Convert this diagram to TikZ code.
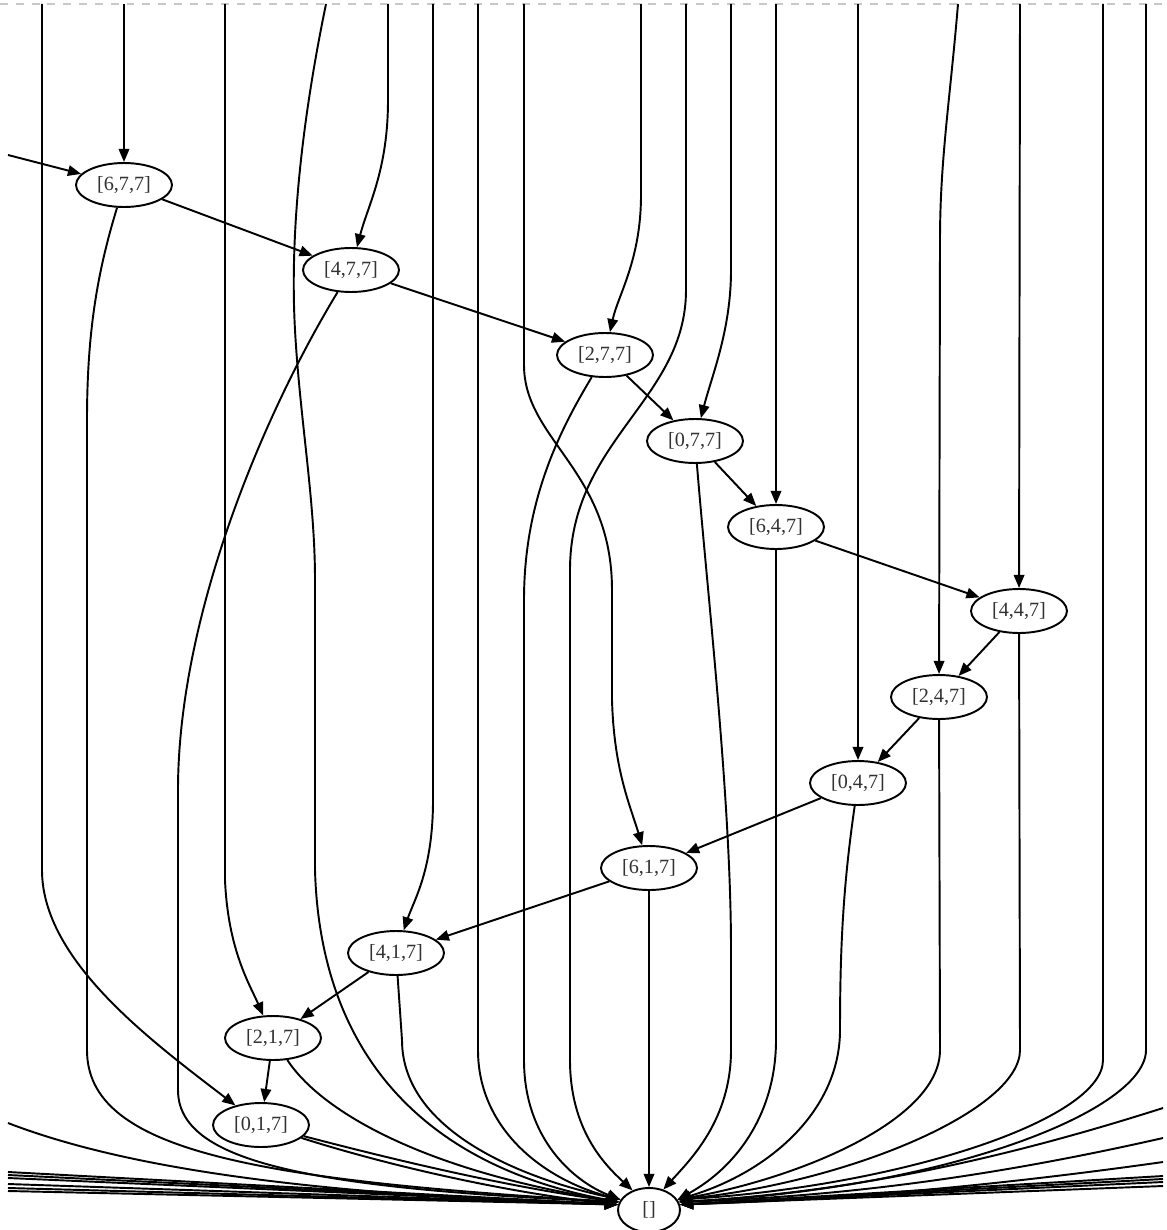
\documentclass[tikz,border=0pt]{standalone}
\usepackage{fontspec}
\setmainfont{Liberation Serif}
\usepackage{tikz}
\usetikzlibrary{shapes.geometric, arrows.meta}
\definecolor{cutgray}{RGB}{200,200,200}
\definecolor{labelgray}{RGB}{50,50,50}
\tikzset{
  state/.style={ellipse, draw, fill=white, line width=1.1pt,
    minimum width=1.92cm, minimum height=0.88cm, inner sep=0pt,
    text=labelgray, font=\fontsize{11.5}{13}\selectfont},
  link/.style={-{Triangle[length=7.5pt,width=6pt]}, line width=1.1pt}
}

\begin{document}
\begin{tikzpicture}[x=0.02cm, y=-0.02cm]
  \useasboundingbox (0,0) rectangle (1166,1230);
  % Cut line
  \draw[cutgray, dashed, dash pattern=on 4.5pt off 4.5pt, line width=0.6pt] (0,4) -- (1166,4);

  % States
  \node[state] (n677) at (124,185) {[6,7,7]};
  \node[state] (n477) at (351,270) {[4,7,7]};
  \node[state] (n277) at (605,355) {[2,7,7]};
  \node[state] (n077) at (695,441) {[0,7,7]};
  \node[state] (n647) at (776,527) {[6,4,7]};
  \node[state] (n447) at (1019,611) {[4,4,7]};
  \node[state] (n247) at (939,697) {[2,4,7]};
  \node[state] (n047) at (858,783) {[0,4,7]};
  \node[state] (n617) at (649,868) {[6,1,7]};
  \node[state] (n417) at (396,953) {[4,1,7]};
  \node[state] (n217) at (273,1038) {[2,1,7]};
  \node[state] (n017) at (261,1125) {[0,1,7]};
  \node[state, minimum width=1.24cm] (nil) at (649,1210) {[]};

  % Loose ends at the cut
  \foreach \x [count=\i] in {42,124,225,326,388,433,478,524,641,686,731,776,858,958,1020,1103,1146}
    \coordinate (t\i) at (\x,4);
  \coordinate (l0) at (8,155);
  \coordinate (l1) at (8,1123);
  \foreach \y [count=\i] in {1172,1175,1178,1184,1188,1191}
    \coordinate (lb\i) at (8,\y);
  \foreach \y [count=\i] in {1108,1138,1162}
    \coordinate (r\i) at (1163,\y);
  \foreach \y [count=\i] in {1176,1179,1182,1186}
    \coordinate (rb\i) at (1163,\y);

  % Chain
  \draw[link] (l0) -- (n677);
  \draw[link] (t2) -- (n677);
  \draw[link] (n677) -- (n477);
  \draw[link] (t5) -- (388,100) .. controls (388,170) and (368,205) .. (n477);
  \draw[link] (n477) -- (n277);
  \draw[link] (t9) -- (641,195) .. controls (641,260) and (618,295) .. (n277);
  \draw[link] (n277) -- (n077);
  \draw[link] (t11) -- (731,270) .. controls (731,330) and (712,375) .. (n077);
  \draw[link] (n077) -- (n647);
  \draw[link] (t12) -- (n647);
  \draw[link] (n647) -- (n447);
  \draw[link] (t15) -- (n447);
  \draw[link] (n447) -- (n247);
  \draw[link] (t14) .. controls (950,100) and (940,160) .. (940,240) -- (n247);
  \draw[link] (n247) -- (n047);
  \draw[link] (t13) -- (n047);
  \draw[link] (n047) -- (n617);
  \draw[link] (t8) -- (524,365) .. controls (524,440) and (612,470) .. (612,590) -- (612,700) .. controls (614,770) and (630,805) .. (n617);
  \draw[link] (n617) -- (n417);
  \draw[link] (t6) -- (433,800) .. controls (433,870) and (414,900) .. (n417);
  \draw[link] (n417) -- (n217);
  \draw[link] (t3) -- (225,880) .. controls (228,950) and (250,985) .. (n217);
  \draw[link] (n217) -- (n017);
  \draw[link] (t1) -- (42,870) .. controls (42,960) and (150,1040) .. (n017);

  % Into [] from the left
  \draw[link] (n677) .. controls (98,270) and (87,330) .. (87,420) -- (87,1050) .. controls (87,1150) and (250,1180) .. (nil.165);
  \draw[link] (n477) .. controls (260,420) and (178,620) .. (178,790) -- (178,1090) .. controls (178,1160) and (300,1188) .. (nil.165);
  \draw[link] (t4) .. controls (300,130) and (290,240) .. (295,330) .. controls (300,420) and (315,500) .. (315,580) -- (315,870) .. controls (320,1050) and (420,1165) .. (nil.165);
  \draw[link] (n417) -- (402,1040) .. controls (402,1130) and (520,1178) .. (nil.160);
  \draw[link] (t7) -- (478,1050) .. controls (478,1130) and (545,1180) .. (nil.160);
  \draw[link] (n277) .. controls (560,430) and (524,500) .. (524,600) -- (524,1060) .. controls (524,1140) and (575,1182) .. (nil.160);
  \draw[link] (t10) -- (686,290) .. controls (686,400) and (570,440) .. (570,570) -- (570,1060) .. controls (570,1130) and (605,1165) .. (nil.130);
  \draw[link] (n217) .. controls (320,1110) and (420,1170) .. (nil.165);
  \draw[link] (n017) .. controls (380,1156) and (500,1186) .. (nil.165);
  \draw[link] (n017) .. controls (380,1163) and (500,1192) .. (nil.170);
  \draw[link] (l1) .. controls (130,1170) and (320,1195) .. (nil.170);
  \foreach \i in {1,...,6}
    \draw[link] (lb\i) -- (nil.170);

  % Into [] from above and the right
  \draw[link] (n617) -- (nil);
  \draw[link] (n077) .. controls (708,600) and (731,800) .. (731,950) -- (731,1050) .. controls (731,1120) and (690,1160) .. (nil.55);
  \draw[link] (n647) -- (776,1040) .. controls (776,1110) and (740,1165) .. (nil.20);
  \draw[link] (n047) .. controls (844,880) and (840,940) .. (840,1030) .. controls (840,1110) and (770,1172) .. (nil.20);
  \draw[link] (n247) -- (940,1050) .. controls (940,1120) and (800,1178) .. (nil.20);
  \draw[link] (n447) -- (1020,1050) .. controls (1020,1110) and (850,1182) .. (nil.20);
  \draw[link] (t16) -- (1103,1060) .. controls (1103,1120) and (900,1186) .. (nil.20);
  \draw[link] (t17) -- (1146,1050) .. controls (1146,1110) and (950,1188) .. (nil.15);
  \draw[link] (r1) .. controls (1000,1160) and (850,1192) .. (nil.15);
  \draw[link] (r2) .. controls (1000,1175) and (850,1196) .. (nil.15);
  \draw[link] (r3) .. controls (1000,1185) and (850,1199) .. (nil.10);
  \foreach \i in {1,...,4}
    \draw[link] (rb\i) -- (nil.10);
\end{tikzpicture}
\end{document}
